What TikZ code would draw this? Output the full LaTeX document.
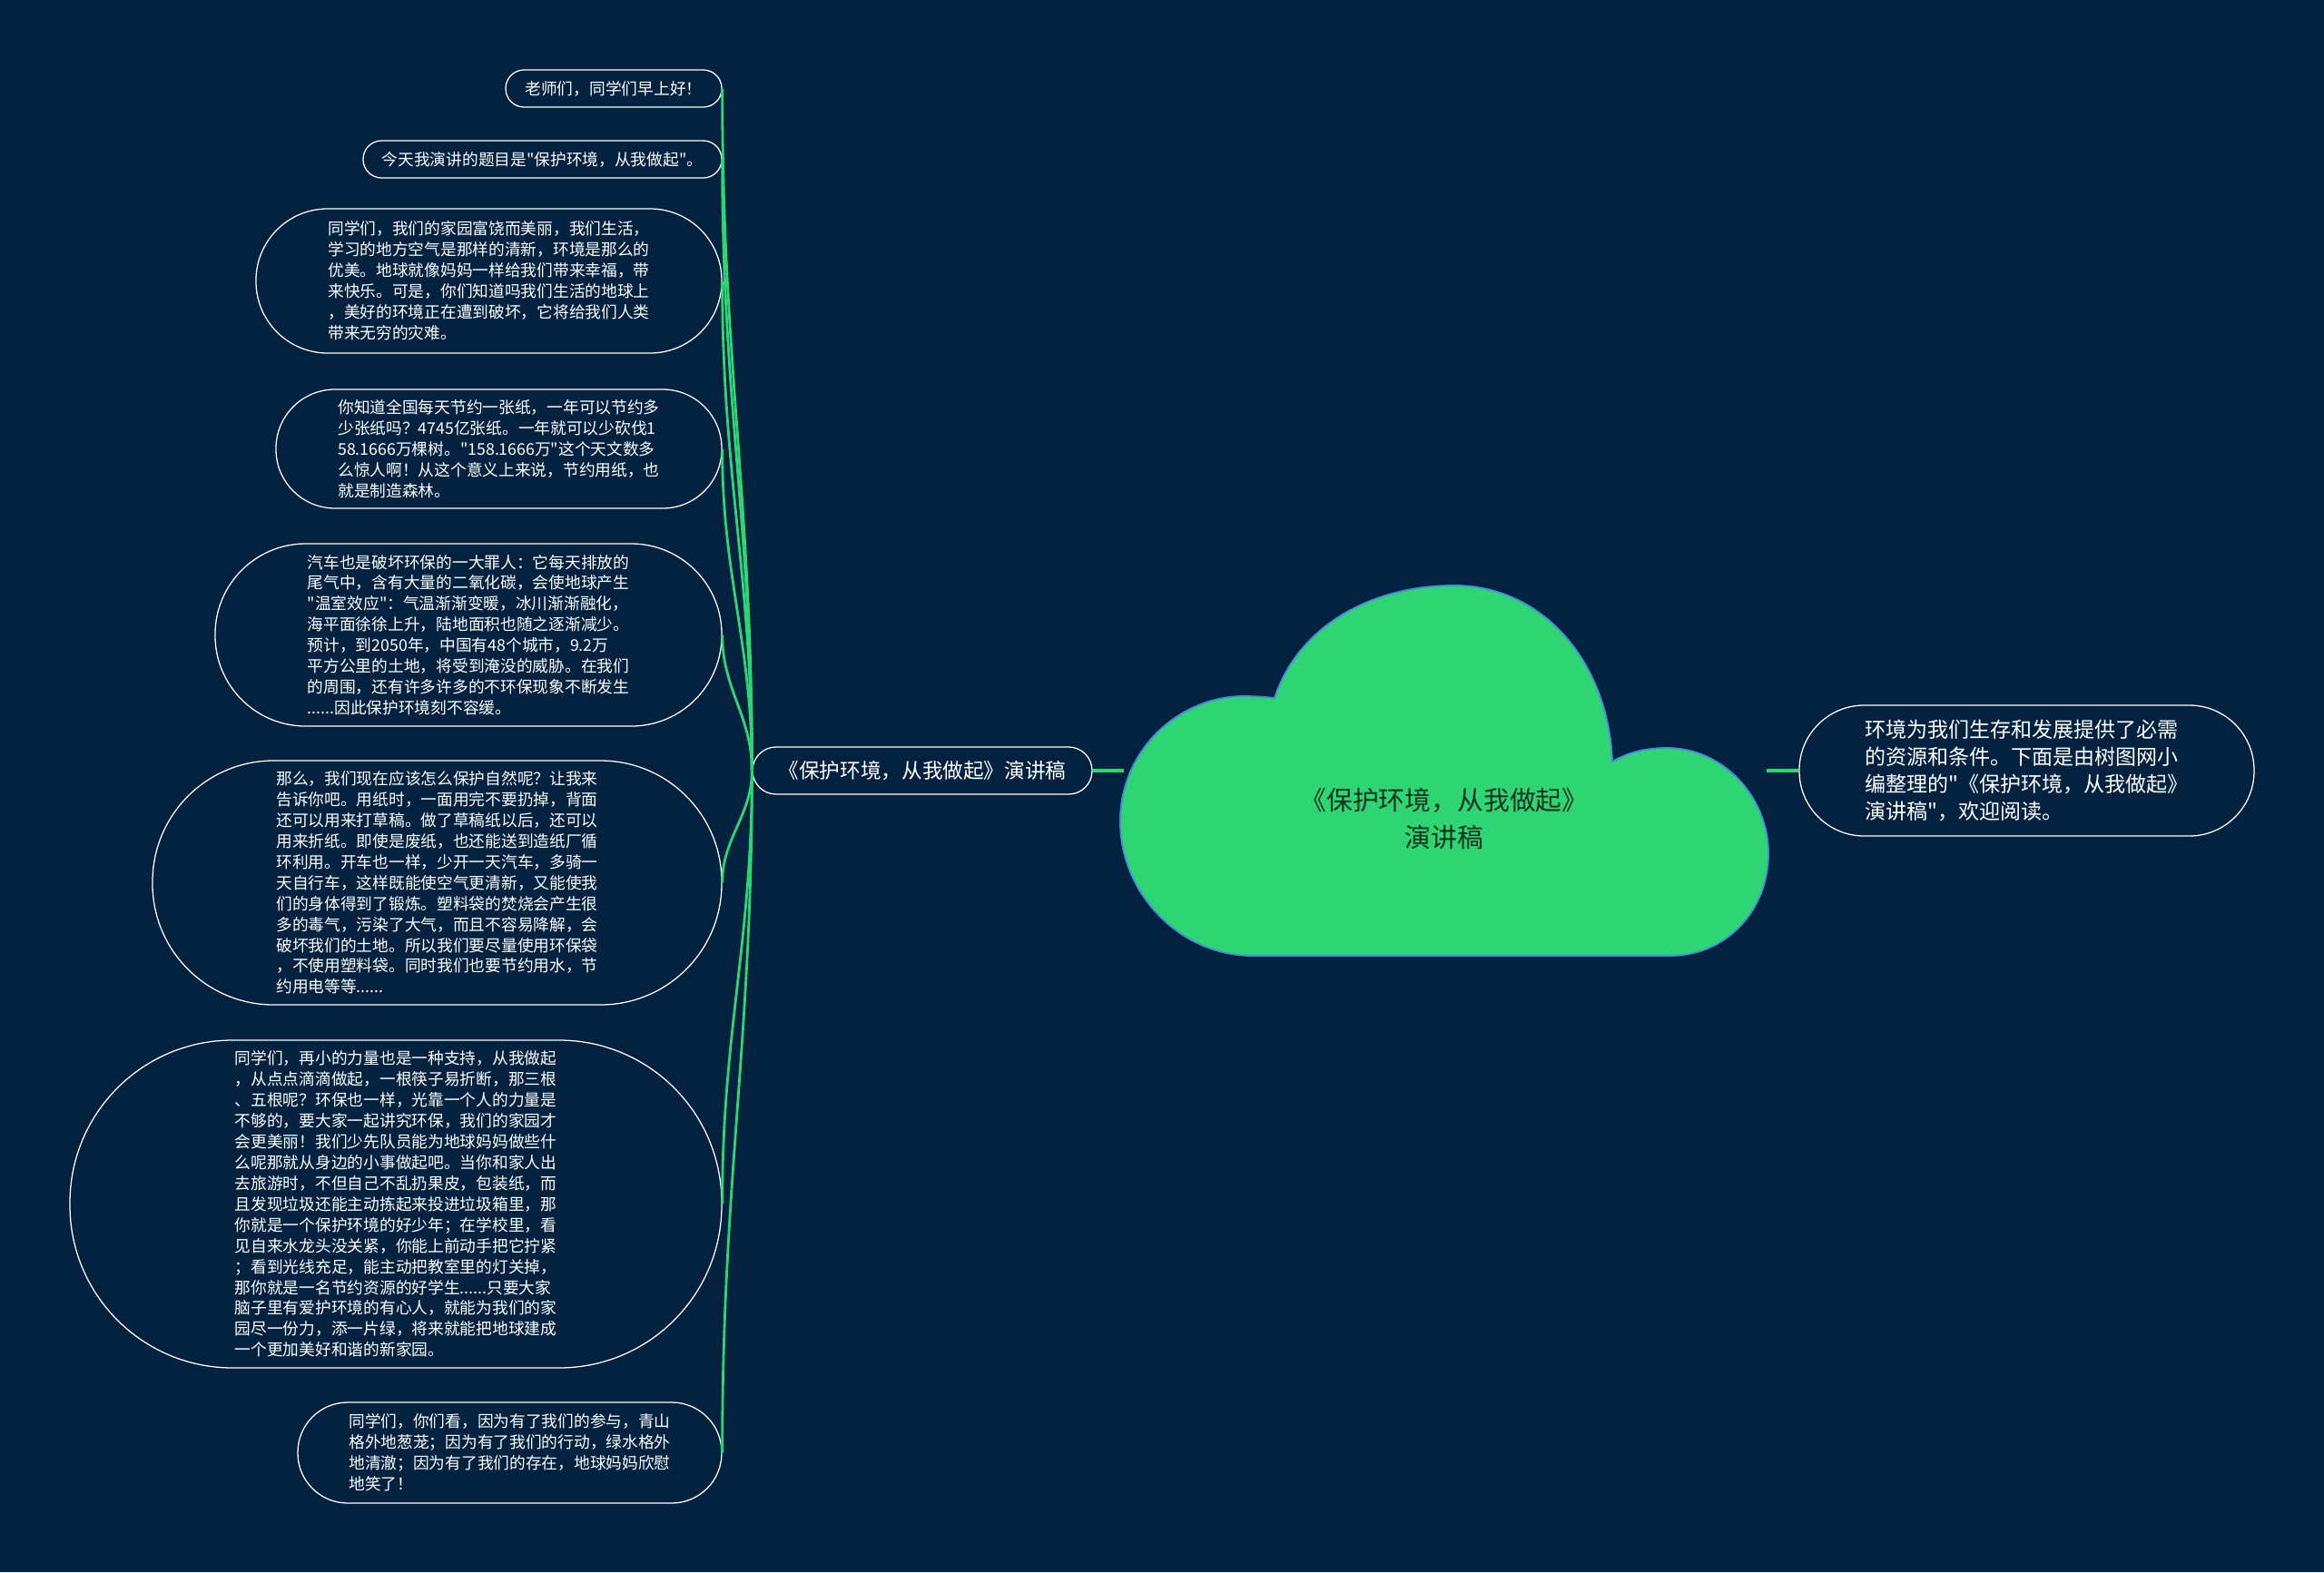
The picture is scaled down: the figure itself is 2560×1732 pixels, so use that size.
\documentclass[tikz,border=0pt]{standalone}
\usepackage{fontspec}
\newfontfamily\cjk{Noto Sans CJK SC}
\usetikzlibrary{calc}
\definecolor{bgnavy}{RGB}{2,34,64}
\definecolor{leafgreen}{RGB}{46,213,115}
\definecolor{cloudedge}{RGB}{70,140,220}
\definecolor{cloudtext}{RGB}{18,50,32}

\begin{document}
\begin{tikzpicture}[
    x=0.025cm, y=-0.025cm,
    leaf/.style 2 args={draw=white, line width=0.9pt, fill=bgnavy, text=white, align=left, inner sep=0pt,
      minimum width=#1*0.025cm, minimum height=#2*0.025cm, rounded corners=#2*0.0124cm,
      font=\cjk\fontsize{12.6}{16.3}\selectfont},
    link/.style={draw=leafgreen, line width=2pt},
    trunk/.style={draw=leafgreen, line width=2.8pt}
  ]
  \useasboundingbox (0,0) rectangle (2560,1732);
  \fill[bgnavy] (0,0) rectangle (2560,1732);

  % leaves on the left
  \node[leaf={238}{41}] (n1) at (676,97.5) {老师们，同学们早上好！};
  \node[leaf={395}{41}] (n2) at (597.5,175.5) {今天我演讲的题目是"保护环境，从我做起"。};
  \node[leaf={513}{159}] (n3) at (538.5,309.5) {同学们，我们的家园富饶而美丽，我们生活，\\
    学习的地方空气是那样的清新，环境是那么的\\
    优美。地球就像妈妈一样给我们带来幸福，带\\
    来快乐。可是，你们知道吗我们生活的地球上\\
    ，美好的环境正在遭到破坏，它将给我们人类\\
    带来无穷的灾难。};
  \node[leaf={491}{131}] (n4) at (549.5,494.5) {你知道全国每天节约一张纸，一年可以节约多\\
    少张纸吗？4745亿张纸。一年就可以少砍伐1\\
    58.1666万棵树。"158.1666万"这个天文数多\\
    么惊人啊！从这个意义上来说，节约用纸，也\\
    就是制造森林。};
  \node[leaf={558}{201}] (n5) at (516,699.5) {汽车也是破坏环保的一大罪人：它每天排放的\\
    尾气中，含有大量的二氧化碳，会使地球产生\\
    "温室效应"：气温渐渐变暖，冰川渐渐融化，\\
    海平面徐徐上升，陆地面积也随之逐渐减少。\\
    预计，到2050年，中国有48个城市，9.2万\\
    平方公里的土地，将受到淹没的威胁。在我们\\
    的周围，还有许多许多的不环保现象不断发生\\
    ......因此保护环境刻不容缓。};
  \node[leaf={627}{269}] (n6) at (481.5,972.5) {那么，我们现在应该怎么保护自然呢？让我来\\
    告诉你吧。用纸时，一面用完不要扔掉，背面\\
    还可以用来打草稿。做了草稿纸以后，还可以\\
    用来折纸。即使是废纸，也还能送到造纸厂循\\
    环利用。开车也一样，少开一天汽车，多骑一\\
    天自行车，这样既能使空气更清新，又能使我\\
    们的身体得到了锻炼。塑料袋的焚烧会产生很\\
    多的毒气，污染了大气，而且不容易降解，会\\
    破坏我们的土地。所以我们要尽量使用环保袋\\
    ，不使用塑料袋。同时我们也要节约用水，节\\
    约用电等等......};
  \node[leaf={718}{361}] (n7) at (436,1326.5) {同学们，再小的力量也是一种支持，从我做起\\
    ，从点点滴滴做起，一根筷子易折断，那三根\\
    、五根呢？环保也一样，光靠一个人的力量是\\
    不够的，要大家一起讲究环保，我们的家园才\\
    会更美丽！我们少先队员能为地球妈妈做些什\\
    么呢那就从身边的小事做起吧。当你和家人出\\
    去旅游时，不但自己不乱扔果皮，包装纸，而\\
    且发现垃圾还能主动拣起来投进垃圾箱里，那\\
    你就是一个保护环境的好少年；在学校里，看\\
    见自来水龙头没关紧，你能上前动手把它拧紧\\
    ；看到光线充足，能主动把教室里的灯关掉，\\
    那你就是一名节约资源的好学生......只要大家\\
    脑子里有爱护环境的有心人，就能为我们的家\\
    园尽一份力，添一片绿，将来就能把地球建成\\
    一个更加美好和谐的新家园。};
  \node[leaf={467}{111}] (n8) at (561.5,1600.5) {同学们，你们看，因为有了我们的参与，青山\\
    格外地葱茏；因为有了我们的行动，绿水格外\\
    地清澈；因为有了我们的存在，地球妈妈欣慰\\
    地笑了！};

  % branch and intro
  \node[leaf={374}{52}, font=\cjk\fontsize{16.1}{20}\selectfont] (branch) at (1016,849) {《保护环境，从我做起》演讲稿};
  \node[leaf={501}{144}, font=\cjk\fontsize{16.4}{21.3}\selectfont] (intro) at (2232.5,849) {环境为我们生存和发展提供了必需\\
    的资源和条件。下面是由树图网小\\
    编整理的"《保护环境，从我做起》\\
    演讲稿"，欢迎阅读。};

  \coordinate (rootW) at (1238,849);
  \coordinate (rootE) at (1946,849);
  \foreach \n in {n1,n2,n3,n4,n5,n6,n7,n8}
    \draw[link] (branch.west) .. controls ($(branch.west)!0.4!(branch.west |- \n.east)$)
      and ($(\n.east)!0.4!(\n.east |- branch.west)$) .. (\n.east);
  \draw[trunk] (rootW) -- (branch.east);
  \draw[trunk] (rootE) -- (intro.west);

  % the cloud
  \draw[fill=leafgreen, draw=cloudedge, line width=1.3pt]
    (1404,769) .. controls (1430,690) and (1510,645) .. (1602,645)
    .. controls (1700,645) and (1772,730) .. (1776,839)
    .. controls (1795,828) and (1815,824) .. (1836,824)
    .. controls (1900,824) and (1948,880) .. (1948,940)
    .. controls (1948,1005) and (1900,1053) .. (1840,1053)
    -- (1380,1053)
    .. controls (1300,1053) and (1234,985) .. (1234,905)
    .. controls (1234,825) and (1300,767) .. (1370,767)
    .. controls (1383,767) and (1395,768) .. (1404,769) -- cycle;
  \node[text=cloudtext, align=center, font=\cjk\fontsize{20.5}{29}\selectfont] (root) at (1591,902)
    {《保护环境，从我做起》\\演讲稿};
\end{tikzpicture}
\end{document}
